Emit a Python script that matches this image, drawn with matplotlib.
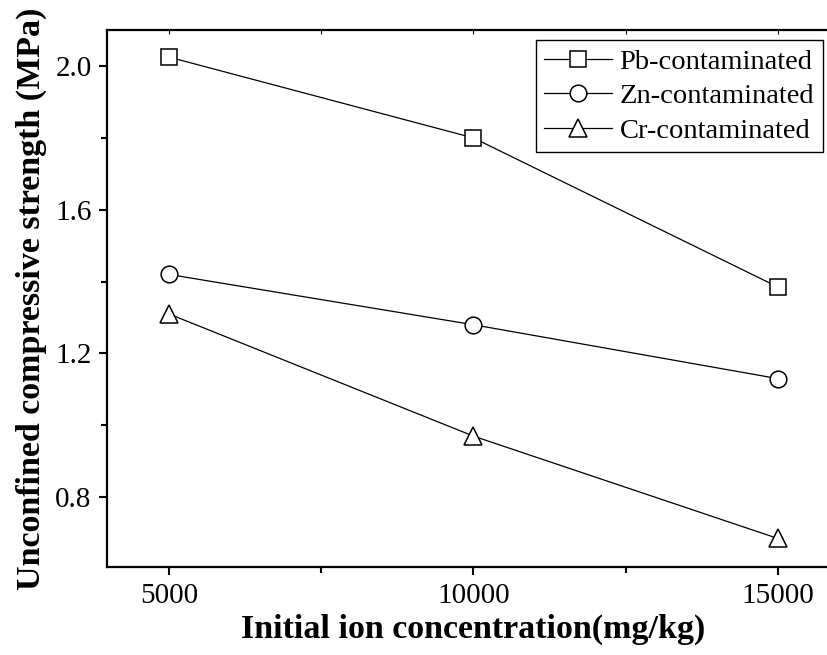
import matplotlib.pyplot as plt

concentration = [5000, 10000, 15000]
pb_strength = [2.025, 1.80, 1.385]
zn_strength = [1.42, 1.28, 1.13]
cr_strength = [1.31, 0.97, 0.685]

plt.rcParams['font.family'] = 'Liberation Serif'

fig = plt.figure(figsize=(8.28, 6.55), dpi=100)
ax = fig.add_axes([0.129, 0.134, 0.884, 0.820])

style = dict(color='black', linewidth=0.9, markerfacecolor='white',
             markeredgecolor='black', markeredgewidth=1.1)
ax.plot(concentration, pb_strength, marker='s', markersize=11, label='Pb-contaminated', **style)
ax.plot(concentration, zn_strength, marker='o', markersize=12, label='Zn-contaminated', **style)
ax.plot(concentration, cr_strength, marker='^', markersize=13, label='Cr-contaminated', **style)

ax.set_xlim(3980, 16000)
ax.set_ylim(0.605, 2.1)
ax.set_xticks([5000, 10000, 15000])
ax.set_xticks([7500, 12500], minor=True)
ax.set_yticks([0.8, 1.2, 1.6, 2.0])
ax.set_yticks([1.0, 1.4, 1.8], minor=True)
ax.set_yticklabels(['0.8', '1.2', '1.6', '2.0'])

for s in ax.spines.values():
    s.set_linewidth(1.6)
ax.tick_params(which='major', direction='out', length=6, width=1.5, labelsize=21,
               pad=5, top=False, right=False)
ax.tick_params(which='minor', direction='out', length=4, width=1.5,
               top=False, right=False)

# small inward ticks along the top frame
top = ax.secondary_xaxis('top')
top.set_xticks([5000, 10000, 15000])
top.set_xticks([7500, 12500], minor=True)
top.tick_params(which='both', direction='in', length=3, width=0.8, labeltop=False)
top.spines['top'].set_visible(False)

ax.set_xlabel('Initial ion concentration(mg/kg)', fontsize=24.5, fontweight='bold', labelpad=4)
ax.set_ylabel('Unconfined compressive strength (MPa)', fontsize=24.5, fontweight='bold', labelpad=6)

leg = ax.legend(loc='upper right', bbox_to_anchor=(0.982, 0.986), fontsize=20.5,
                handlelength=2.4, handletextpad=0.25, labelspacing=0.3,
                borderpad=0.3, borderaxespad=0.1, fancybox=False, framealpha=1)
leg.get_frame().set_edgecolor('black')
leg.get_frame().set_linewidth(1.0)

plt.savefig('out.png', dpi=100)
